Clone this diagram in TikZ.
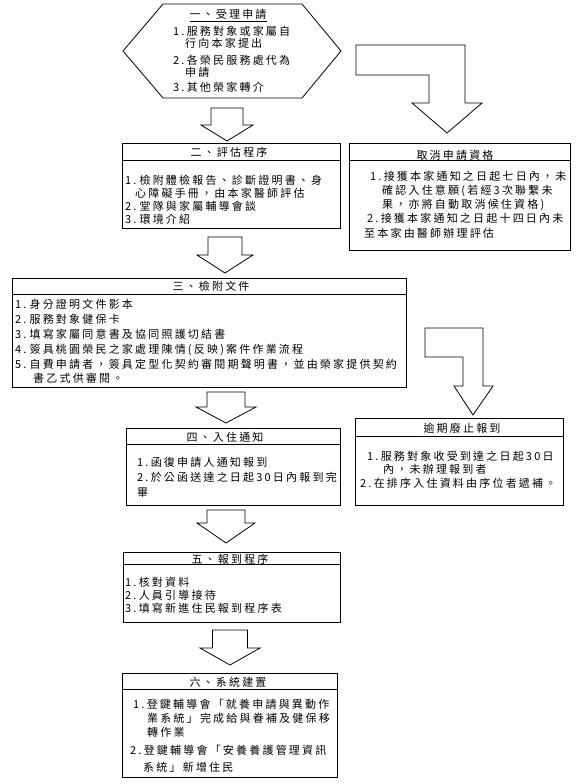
\documentclass[tikz,border=0pt]{standalone}
\usepackage{fontspec}
\setmainfont{Noto Sans CJK TC}[LetterSpace=20]
\usepackage{tikz}

\tikzset{
  frame/.style={draw, line width=0.8pt},
  box/.style={frame, inner sep=0pt},
  head/.style={anchor=base, inner sep=0pt, font=\fontsize{11}{12}\selectfont},
  list/.style={anchor=base west, align=left, inner sep=0pt, font=\fontsize{11}{#1}\selectfont},
  list/.default=13,
  fat/.style={frame, fill=white, line join=miter},
}
% hollow down arrow: centre x, shaft top, head top, tip, half shaft, half head
\newcommand{\fatdown}[6]{\draw[fat] (#1-#5,#2) -- (#1+#5,#2) -- (#1+#5,#3) -- (#1+#6,#3) -- (#1,#4) -- (#1-#6,#3) -- (#1-#5,#3) -- cycle;}

\begin{document}
\begin{tikzpicture}[x=1pt, y=-1pt]
\useasboundingbox (0,0) rectangle (576,784);

% 一、受理申請 (list nodes sit on the baseline of their last line)
\draw[frame] (123,51) -- (163,4) -- (302,4) -- (341,51) -- (302,98) -- (163,98) -- cycle;
\node[head] (apply) at (228,19) {\underline{一、受理申請}};
\node[list=11.5] (applylist) at (173,92) {1.服務對象或家屬自\\\hspace*{12pt}行向本家提出\\[5.5pt]2.各榮民服務處代為\\\hspace*{12pt}申請\\[4.5pt]3.其他榮家轉介};

% 二、評估程序
\node[box, minimum width=218pt, minimum height=85pt] (eval) at (231,185.5) {};
\draw[frame] ([yshift=-18pt]eval.north west) -- ([yshift=-18pt]eval.north east);
\node[head] (evaltitle) at (229,156) {二、評估程序};
\node[list] (evallist) at (125,223) {1.\hspace{3pt}檢附體檢報告、診斷證明書、身\\\hspace*{10pt}心障礙手冊，由本家醫師評估\\2.\hspace{3pt}堂隊與家屬輔導會談\\3.\hspace{3pt}環境介紹};

% 取消申請資格
\node[box, minimum width=221pt, minimum height=107pt] (cancel) at (459.5,196.5) {};
\draw[frame] ([yshift=-18pt]cancel.north west) -- ([yshift=-18pt]cancel.north east);
\node[head] (canceltitle) at (455,159) {取消申請資格};
\node[list=14.2] (cancellist) at (364,237) {\hspace*{6pt}1.接獲本家通知之日起七日內，未\\\hspace*{18pt}確認入住意願(若經3次聯繫未\\\hspace*{18pt}果，亦將自動取消候住資格)\\\hspace*{3pt}2.接獲本家通知之日起十四日內未\\至本家由醫師辦理評估};

% 三、檢附文件
\node[box, minimum width=394pt, minimum height=109pt] (docs) at (209,332.5) {};
\draw[frame] ([yshift=-17pt]docs.north west) -- ([yshift=-17pt]docs.north east);
\node[head] (docstitle) at (211,290) {三、檢附文件};
\node[list=15] (docslist) at (15,382) {1.\hspace{3pt}身分證明文件影本\\2.\hspace{3pt}服務對象健保卡\\3.\hspace{3pt}填寫家屬同意書及協同照護切結書\\4.\hspace{3pt}簽具桃園榮民之家處理陳情(反映)案件作業流程\\5.\hspace{3pt}自費申請者，簽具定型化契約審閱期聲明書，並由榮家提供契約\\[-1pt]\hspace*{18pt}書乙式供審閱。};

% 四、入住通知
\node[box, minimum width=214pt, minimum height=77pt] (notice) at (233,466.5) {};
\draw[frame] ([yshift=-17pt]notice.north west) -- ([yshift=-17pt]notice.north east);
\node[head] (noticetitle) at (225,441) {四、入住通知};
\node[list=15] (noticelist) at (137,496) {1.函復申請人通知報到\\2.於公函送達之日起30日內報到完\\畢};

% 逾期廢止報到
\node[box, minimum width=208pt, minimum height=87pt] (lapse) at (459,461.5) {};
\draw[frame] ([yshift=-19pt]lapse.north west) -- ([yshift=-19pt]lapse.north east);
\node[head] (lapsetitle) at (462,432) {逾期廢止報到};
\node[list=13.5] (lapselist) at (360,487) {\hspace*{7pt}1.服務對象收受到達之日起30日\\\hspace*{23pt}內，未辦理報到者\\2.在排序入住資料由序位者遞補。};

% 五、報到程序
\node[box, minimum width=217pt, minimum height=70pt] (report) at (231.5,587) {};
\draw[frame] ([yshift=-13pt]report.north west) -- ([yshift=-13pt]report.north east);
\node[head] (reporttitle) at (230,563) {五、報到程序};
\node[list] (reportlist) at (125,612) {1.核對資料\\2.人員引導接待\\3.填寫新進住民報到程序表};

% 六、系統建置
\node[box, minimum width=215pt, minimum height=104pt] (system) at (229.5,725) {};
\draw[frame] ([yshift=-17pt]system.north west) -- ([yshift=-17pt]system.north east);
\node[head] (systemtitle) at (228,686) {六、系統建置};
\node[list=14] (systemlist) at (130,771) {\hspace*{3pt}1.登鍵輔導會「就養申請與異動作\\\hspace*{17pt}業系統」完成給與眷補及健保移\\\hspace*{17pt}轉作業\\[4pt]2.登鍵輔導會「安養養護管理資訊\\[3pt]\hspace*{13pt}系統」新增住民};

% 箭頭
\fatdown{227}{108}{125}{141}{16}{26}
\fatdown{225}{237}{255}{273}{17}{28}
\fatdown{226}{392}{407}{423}{19}{30}
\fatdown{226}{510}{523}{543}{19}{29}
\fatdown{230}{630}{648}{665}{17.5}{30}
\draw[fat] (356,45) -- (465,45) -- (465,103) -- (482,103) -- (447,133) -- (412,103) -- (429,103) -- (429,75) -- (356,75) -- cycle;
\draw[fat] (425,328) -- (483,328) -- (483,386) -- (493,386) -- (473,415) -- (454,386) -- (463,386) -- (463,357) -- (425,357) -- cycle;
\end{tikzpicture}
\end{document}
